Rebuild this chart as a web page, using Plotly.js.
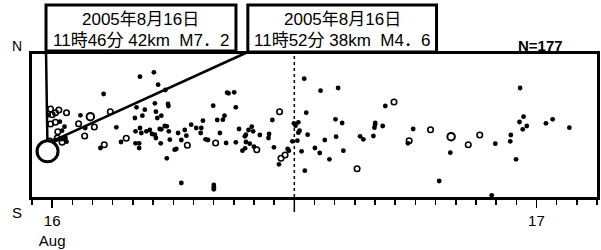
<!DOCTYPE html>
<html><head><meta charset="utf-8">
<script src="https://cdn.plot.ly/plotly-3.0.1.min.js"></script>
<style>html,body{margin:0;padding:0;background:#fff}</style>
</head><body><div id="chart" style="width:601px;height:250px"></div>
<script>
// x: hours since 2005-08-16 00:00 ; y: relative north-south position (0 = S edge, 143 = N edge)
const dotHours = [14.55,11.83,13.40,12.38,12.61,13.64,15.18,12.49,12.49,12.66,12.71,12.16,14.39,15.41,
16.35,17.04,17.25,17.61,20.67,16.18,16.59,17.09,17.74,17.76,17.14,17.41,17.21,16.10,16.47,19.98,20.18,20.54,20.46,19.47,
16.35,16.13,16.42,16.67,16.84,16.95,17.09,17.33,17.41,17.58,17.68,17.78,18.24,18.57,18.65,18.89,19.14,19.39,19.36,20.31,
17.14,16.13,16.31,16.31,17.38,17.83,18.40,19.60,19.72,20.62,18.07,18.15,17.68,18.40,20.01,20.01,20.01,
20.74,21.02,21.10,24.49,25.30,24.59,22.91,21.26,21.89,21.96,21.73,21.60,21.55,22.29,22.75,22.72,21.10,21.60,21.79,21.56,21.43,
22.00,22.99,23.67,23.73,23.24,23.98,24.06,24.20,24.26,24.20,24.66,23.90,24.15,24.36,25.02,25.26,25.51,24.52,
26.17,28.51,26.04,26.37,28.01,28.00,27.97,28.38,29.89,26.07,27.26,27.42,27.92,29.63,26.43,25.74,
35.19,35.16,33.96,34.73,34.70,31.73,34.99,31.18,33.78,
35.36,35.52,35.32,36.47,36.80,37.63];
const dotNS = [103,82,81.7,75.3,70.3,69,69.7,66.3,58,59,55.3,57,49,55,
120.3,124.7,112.3,107,104.3,89.7,87.3,93.7,93,91,85.3,81.3,79,79,81.3,91.3,77,81.3,77.3,76.3,
69,65.7,64,65.7,67,63,62.3,68,67.7,71,70.7,65.7,64,67,61.3,72.3,69,69,64,64,
59,53.7,53.7,49,53.7,57.3,57,57.7,57,54,47.3,48,38.7,14,12,9.7,7.7,
103.7,104.7,89.7,118.3,106.3,84.3,77,68,70.3,65.7,67,62.3,60.7,62,63,59,54.7,55,53.3,48.7,46.3,
50.3,49.7,48,46.3,32.7,73.7,71.3,74.7,66.3,64.3,62.3,55.7,56.3,45.7,49,44,57,26.3,
109,91,77.7,74,74,72.3,69.3,71,68,60.3,60.7,57.7,61,53.7,46.3,37.7,
109,75,53.3,62,55.7,44.3,37.7,16,1.7,
80.3,71,67.7,73.7,77.7,69.3];

const ringHours = [11.92,12.33,12.16,12.00,12.71,14.88,11.92,12.16,13.31,14.09,12.28,13.61,12.25,12.49,14.58,15.67,
18.70,20.10,23.27,22.14,23.54,23.34,28.94,29.69,27.11,30.75,33.19,32.62];
const ringNS = [88,87,84.3,82.3,84.3,85.3,73,74.7,73.3,70,65.3,61,59,54.7,52.3,58.7,
51.7,54,85.3,47.3,42,38.7,95,56.3,28.3,67.3,62,52.3];

const bigRingHours = [13.89,31.77,11.87];
const bigRingNS = [80.3,60.3,54.7];

const mainHours = [11.77];
const mainNS = [45.7];

const xRange = [11, 39];
const yRange = [0, 143];
const tickVals = [12, 36];
const tickText = ['16<br>Aug', '17'];
const midnight = 24;

const box1Lines = ['2005年8月16日', '11時46分 42km\u00a0\u00a0M7．2'];
const box2Lines = ['2005年8月16日', '11時52分 38km\u00a0\u00a0M4．6'];
const countLabel = 'N=177';

const px = h => (h - xRange[0]) / (xRange[1] - xRange[0]);
const py = v => (v - yRange[0]) / (yRange[1] - yRange[0]);

const traces = [
  {x: dotHours, y: dotNS, type:'scatter', mode:'markers', cliponaxis:false,
   marker:{symbol:'circle', size:4.8, color:'#000'}},
  {x: ringHours, y: ringNS, type:'scatter', mode:'markers', cliponaxis:false,
   marker:{symbol:'circle-open', size:5.5, color:'#000', line:{width:1.6}}},
  {x: bigRingHours, y: bigRingNS, type:'scatter', mode:'markers', cliponaxis:false,
   marker:{symbol:'circle-open', size:7.5, color:'#000', line:{width:2}}},
  {x: mainHours, y: mainNS, type:'scatter', mode:'markers', cliponaxis:false,
   marker:{symbol:'circle', size:21, color:'rgba(255,255,255,1)', line:{color:'#000', width:3}}}
];

const jp = {family:'"Liberation Sans", "Noto Sans CJK JP", sans-serif', size:17, color:'#000'};
const box1 = {x0:0.0248, x1:0.361, y0:1.021, y1:1.343};
const box2 = {x0:0.382, x1:0.716, y0:1.014, y1:1.343};
const line1Y = 1.240, line2Y = 1.094;

const layout = {
  width:601, height:250,
  margin:{l:32, r:4, t:54, b:53},
  paper_bgcolor:'#fff', plot_bgcolor:'#fff',
  showlegend:false,
  font:{family:'"Liberation Sans", Arial, sans-serif', color:'#000'},
  xaxis:{range:xRange, tickmode:'array', tickvals:tickVals, ticktext:tickText,
         ticks:'outside', ticklen:8, tickwidth:1.5, tickcolor:'#000',
         tickfont:{size:15, family:'"Liberation Sans", Arial, sans-serif'},
         showgrid:false, zeroline:false, showline:true, mirror:true, linewidth:3, linecolor:'#000',
         minor:{tickmode:'linear', tick0:0, dtick:1, ticks:'outside', ticklen:5, tickwidth:1.5, tickcolor:'#000', showgrid:false}},
  yaxis:{range:yRange, showticklabels:false, ticks:'', showgrid:false, zeroline:false,
         showline:true, mirror:true, linewidth:3, linecolor:'#000'},
  shapes:[
    {type:'line', xref:'x', yref:'paper', x0:midnight, x1:midnight, y0:0, y1:1, line:{color:'#000', width:1.5, dash:'dot'}},
    {type:'line', xref:'x', yref:'paper', x0:midnight, x1:midnight, y0:0, y1:-0.105, line:{color:'#000', width:1.5}},
    {type:'rect', xref:'paper', yref:'paper', x0:box1.x0, x1:box1.x1, y0:box1.y0, y1:box1.y1, line:{color:'#000', width:3}, fillcolor:'#fff'},
    {type:'rect', xref:'paper', yref:'paper', x0:box2.x0, x1:box2.x1, y0:box2.y0, y1:box2.y1, line:{color:'#000', width:3}, fillcolor:'#fff'},
    {type:'line', xref:'paper', yref:'paper', layer:'below', x0:box1.x0, y0:box1.y0, x1:px(mainHours[0]), y1:py(mainNS[0]), line:{color:'#000', width:2.5}},
    {type:'line', xref:'paper', yref:'paper', layer:'below', x0:box2.x0, y0:box2.y0, x1:px(bigRingHours[2]), y1:py(bigRingNS[2]), line:{color:'#000', width:2.5}}
  ],
  annotations:[
    {xref:'paper', yref:'paper', x:(box1.x0+box1.x1)/2, y:line1Y, xanchor:'center', yanchor:'middle', showarrow:false, text:box1Lines[0], font:jp},
    {xref:'paper', yref:'paper', x:(box1.x0+box1.x1)/2, y:line2Y, xanchor:'center', yanchor:'middle', showarrow:false, text:box1Lines[1], font:jp},
    {xref:'paper', yref:'paper', x:(box2.x0+box2.x1)/2, y:line1Y, xanchor:'center', yanchor:'middle', showarrow:false, text:box2Lines[0], font:jp},
    {xref:'paper', yref:'paper', x:(box2.x0+box2.x1)/2, y:line2Y, xanchor:'center', yanchor:'middle', showarrow:false, text:box2Lines[1], font:jp},
    {xref:'paper', yref:'paper', x:0.9, y:1.056, xanchor:'center', yanchor:'middle', showarrow:false,
     text:'<b>'+countLabel+'</b>', font:{size:15, family:'"Liberation Sans", Arial, sans-serif', color:'#000'}},
    {xref:'paper', yref:'paper', x:-0.0257, y:1.056, xanchor:'center', yanchor:'middle', showarrow:false,
     text:'N', font:{size:14, family:'"Liberation Sans", Arial, sans-serif', color:'#000'}},
    {xref:'paper', yref:'paper', x:-0.0257, y:-0.108, xanchor:'center', yanchor:'middle', showarrow:false,
     text:'S', font:{size:15, family:'"Liberation Sans", Arial, sans-serif', color:'#000'}}
  ]
};

Plotly.newPlot('chart', traces, layout, {displayModeBar:false, staticPlot:true});
</script>
</body></html>
